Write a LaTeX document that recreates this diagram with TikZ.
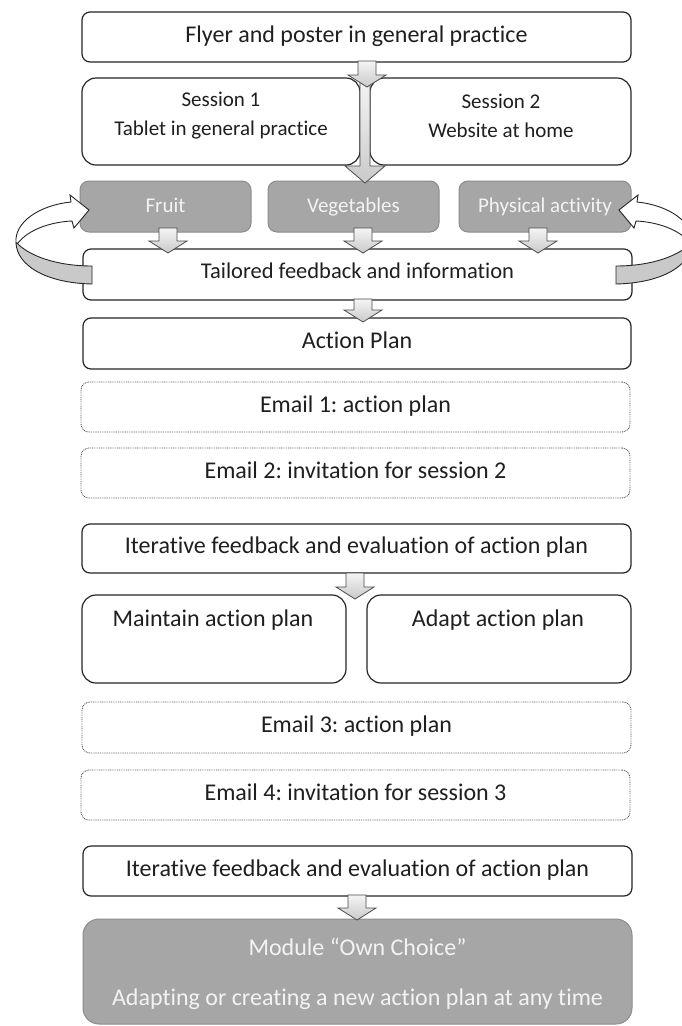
\documentclass[tikz,border=0pt]{standalone}
\usepackage{fontspec}
\setmainfont{Carlito}[Ligatures={NoCommon,NoContextual}]
\frenchspacing
\usetikzlibrary{fit,calc}
\definecolor{boxgray}{HTML}{A6A6A6}
\definecolor{boxgrayline}{HTML}{8C8C8C}
\definecolor{lighttext}{HTML}{F3F3F3}
\definecolor{bandgray}{HTML}{C9C9C9}
\begin{document}
\begin{tikzpicture}[x=1pt,y=-1pt,
  box/.style={draw=black!85, line width=1.2pt, rounded corners=8pt, fill=white, inner sep=0pt},
  bigbox/.style={box, rounded corners=14pt},
  mailbox/.style={draw=black!65, line width=0.9pt, dash pattern=on 0.9pt off 0.9pt, rounded corners=8pt, fill=white, inner sep=0pt},
  graybox/.style={draw=boxgrayline, line width=1pt, fill=boxgray, rounded corners=9pt, inner sep=0pt},
  txt/.style={font=\fontsize{24}{28}\selectfont, text=black!88, inner sep=0pt, text height=16pt, text depth=6pt},
  stxt/.style={font=\fontsize{21}{29}\selectfont, text=black!88, inner sep=0pt, align=center},
  gtxt/.style={font=\fontsize{21}{25}\selectfont, text=lighttext, inner sep=0pt, text height=16pt, text depth=4pt},
  mtxt/.style={font=\fontsize{24}{28}\selectfont, text=lighttext, inner sep=0pt, align=center},
  barrow/.style n args={3}{draw=black!70, line width=0.8pt, top color=gray!8, bottom color=gray!42,
    to path={let \p1=(\tikztostart), \p2=(\tikztotarget) in
      -- (\x1+#1,\y1) -- (\x1+#1,\y2+#3) -- (\x1+#2,\y2+#3) -- (\x1,\y2)
      -- (\x1-#2,\y2+#3) -- (\x1-#1,\y2+#3) -- (\x1-#1,\y1) -- cycle}},
  curvearrow/.style={draw=black!85, line width=0.9pt, fill=white},
  curveband/.style={draw=black!85, line width=0.9pt, fill=bandgray}
]
\fill[white] (0,0) rectangle (682,1026);
\useasboundingbox (0,0) rectangle (682,1026);

% ---- boxes ----
\node[box, fit={(82,12) (631,62)}, label={[txt]center:Flyer and poster in general practice}] (flyer) {};
\node[bigbox, fit={(82,78) (360,165)}] (s1) {};
\node[bigbox, fit={(370,78) (631,165)}] (s2) {};
\node[stxt] (s1t) at (221,115.5) {Session 1\\Tablet in general practice};
\node[stxt] (s2t) at (501,115.5) {Session 2\\Website at home};

\node[graybox, fit={(80,181) (251,232)}, label={[gtxt]center:Fruit}] (fruit) {};
\node[graybox, fit={(268,181) (439,232)}, label={[gtxt]center:Vegetables}] (veg) {};
\node[graybox, fit={(459,181) (631,232)}, label={[gtxt]center:Physical activity}] (phys) {};

\node[box, fit={(83,249) (632,300)}] (tail) {};
\node[txt, font=\fontsize{22.5}{27}\selectfont] (tailt) at (357.5,273) {Tailored feedback and information};
\node[box, fit={(83,318) (631,369)}, label={[txt]center:Action Plan}] (action) {};

\node[mailbox, fit={(81,382) (630,432)}, label={[txt]center:Email 1: action plan}] (mail1) {};
\node[mailbox, fit={(81,448) (630,498)}, label={[txt]center:Email 2: invitation for session 2}] (mail2) {};

\node[box, fit={(82,524) (631,573)}, label={[txt]center:Iterative feedback and evaluation of action plan}] (iter1) {};

\node[bigbox, fit={(82,595) (346,683)}] (maint) {};
\node[bigbox, fit={(367,595) (631,683)}] (adapt) {};
\node[txt] (maintt) at (213,621) {Maintain action plan};
\node[txt] (adaptt) at (498,621) {Adapt action plan};

\node[mailbox, fit={(82,702) (631,753)}, label={[txt]center:Email 3: action plan}] (mail3) {};
\node[mailbox, fit={(81,770) (630,820)}, label={[txt]center:Email 4: invitation for session 3}] (mail4) {};

\node[box, fit={(83,846) (632,896)}, label={[txt]center:Iterative feedback and evaluation of action plan}] (iter2) {};

\node[graybox, rounded corners=16pt, fit={(83,919) (632,1024)}] (module) {};
\node[mtxt] (modt) at (357.5,974) {Module “Own Choice”\\[22pt]Adapting or creating a new action plan at any time};

% ---- block arrows ----
\coordinate (t0s) at (365,79);  \coordinate (t0e) at (365,183);
\path[barrow={5pt}{20pt}{17pt}] (t0s) to (t0e);
\coordinate (a1s) at (367,61);  \coordinate (a1e) at (367,87);
\path[barrow={9pt}{19pt}{12pt}] (a1s) to (a1e);
\coordinate (a2s) at (168,228); \coordinate (a2e) at (168,253);
\path[barrow={9pt}{19pt}{12pt}] (a2s) to (a2e);
\coordinate (a3s) at (363,228); \coordinate (a3e) at (363,253);
\path[barrow={9pt}{19pt}{12pt}] (a3s) to (a3e);
\coordinate (a4s) at (538,228); \coordinate (a4e) at (538,253);
\path[barrow={9pt}{19pt}{12pt}] (a4s) to (a4e);
\coordinate (a5s) at (363,299); \coordinate (a5e) at (363,322);
\path[barrow={9pt}{19pt}{12pt}] (a5s) to (a5e);
\coordinate (a6s) at (355,573); \coordinate (a6e) at (355,599);
\path[barrow={9pt}{19pt}{12pt}] (a6s) to (a6e);
\coordinate (a7s) at (357,895); \coordinate (a7e) at (357,920);
\path[barrow={9pt}{19pt}{12pt}] (a7s) to (a7e);

% ---- curved arrows ----
\begin{scope}
  \clip (0,0) rectangle (682,1026);
  \foreach \sh/\sc in {0pt/1, 708pt/-1}{
    \begin{scope}[xshift=\sh, xscale=\sc]
      \path[curvearrow] (16,243) .. controls (14,222) and (40,205) .. (71,202)
        -- (70,195) -- (89,210) -- (74,228) -- (72,221)
        .. controls (50,222) and (28,230) .. (18,243) -- cycle;
      \path[curveband] (92,266) .. controls (55,266) and (28,255) .. (17,243)
        -- (16,243) .. controls (17,265) and (45,283) .. (92,284) -- cycle;
    \end{scope}
  }
\end{scope}
\end{tikzpicture}
\end{document}
